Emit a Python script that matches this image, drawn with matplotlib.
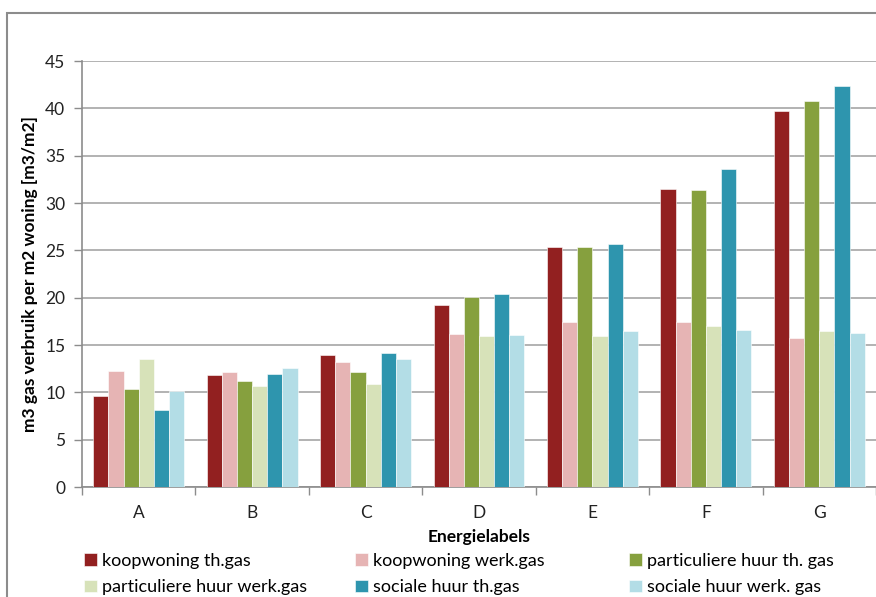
import numpy as np
import matplotlib
matplotlib.use("Agg")
import matplotlib.pyplot as plt
from matplotlib.patches import Rectangle

plt.rcParams['font.family'] = ['Lato', 'DejaVu Sans']

labels = ['A', 'B', 'C', 'D', 'E', 'F', 'G']
series_names = ['koopwoning th.gas', 'koopwoning werk.gas', 'particuliere huur th. gas',
                'particuliere huur werk.gas', 'sociale huur th.gas', 'sociale huur werk. gas']

koop_th = [9.6, 11.8, 13.9, 19.2, 25.4, 31.5, 39.7]
koop_werk = [12.3, 12.2, 13.2, 16.2, 17.4, 17.4, 15.7]
part_th = [10.3, 11.2, 12.2, 20.1, 25.4, 31.4, 40.8]
part_werk = [13.5, 10.7, 10.9, 15.9, 15.9, 17.0, 16.5]
soc_th = [8.1, 11.9, 14.2, 20.4, 25.7, 33.6, 42.4]
soc_werk = [10.1, 12.6, 13.5, 16.1, 16.5, 16.6, 16.3]

values = [koop_th, koop_werk, part_th, part_werk, soc_th, soc_werk]
colors = ['#922020', '#E6B4B4', '#86A03E', '#D7E2B9', '#2E95AE', '#B3DDE6']

fig = plt.figure(figsize=(8.76, 5.97), dpi=100)
ax = fig.add_axes([82/876, 1 - 487/597, 794/876, 426/597])

x = np.arange(len(labels))
width = 0.8 / 6
bars = []
for i, (vals, c) in enumerate(zip(values, colors)):
    b = ax.bar(x - 0.4 + width * (i + 0.5), vals, width, color=c,
               edgecolor='white', linewidth=0.4, zorder=3)
    bars.append(b)

ax.set_xlim(-0.5, 6.5)
ax.set_ylim(0, 45)
ax.set_yticks(range(0, 46, 5))
ax.yaxis.grid(True, color='#A6A6A6', linewidth=1.2, zorder=0)
ax.set_axisbelow(True)

ax.set_xticks(x)
ax.set_xticklabels(labels)
ax.set_xticks(np.arange(-0.5, 7, 1), minor=True)
ax.tick_params(axis='x', which='major', length=0, pad=13, labelsize=12.5)
ax.tick_params(axis='x', which='minor', length=6, color='#8C8C8C', width=1)
ax.tick_params(axis='y', length=6, color='#8C8C8C', width=1, labelsize=12.5, pad=6)
for lab in ax.get_xticklabels() + ax.get_yticklabels():
    lab.set_color('#222222')

for s in ['top', 'right']:
    ax.spines[s].set_visible(False)
for s in ['left', 'bottom']:
    ax.spines[s].set_color('#8C8C8C')
    ax.spines[s].set_linewidth(1.2)

ax.set_xlabel('Energielabels', fontsize=12.5, fontweight='bold', labelpad=6)
fig.text(30/876, 1 - 274/597, 'm3 gas verbruik per m2 woning [m3/m2]', rotation=90,
         ha='center', va='center', fontsize=12.5, fontweight='bold')

# outer chart frame
fig.patches.append(Rectangle((7/876, -0.1), 1.2, 1 - 13/597 + 0.1, transform=fig.transFigure,
                             fill=False, edgecolor='#8C8C8C', linewidth=1.5))

col_x = [84/876, 355/876, 629/876]
order = [[0, 3], [1, 4], [2, 5]]
for cx, idx in zip(col_x, order):
    leg = fig.legend([bars[i] for i in idx], [series_names[i] for i in idx],
                     loc='upper left', bbox_to_anchor=(cx, 1 - 553/597), frameon=False,
                     fontsize=13, handlelength=0.7, handleheight=0.7, handletextpad=0.3,
                     labelspacing=0.58, borderaxespad=0, borderpad=0)

fig.savefig('out.png', dpi=100)
